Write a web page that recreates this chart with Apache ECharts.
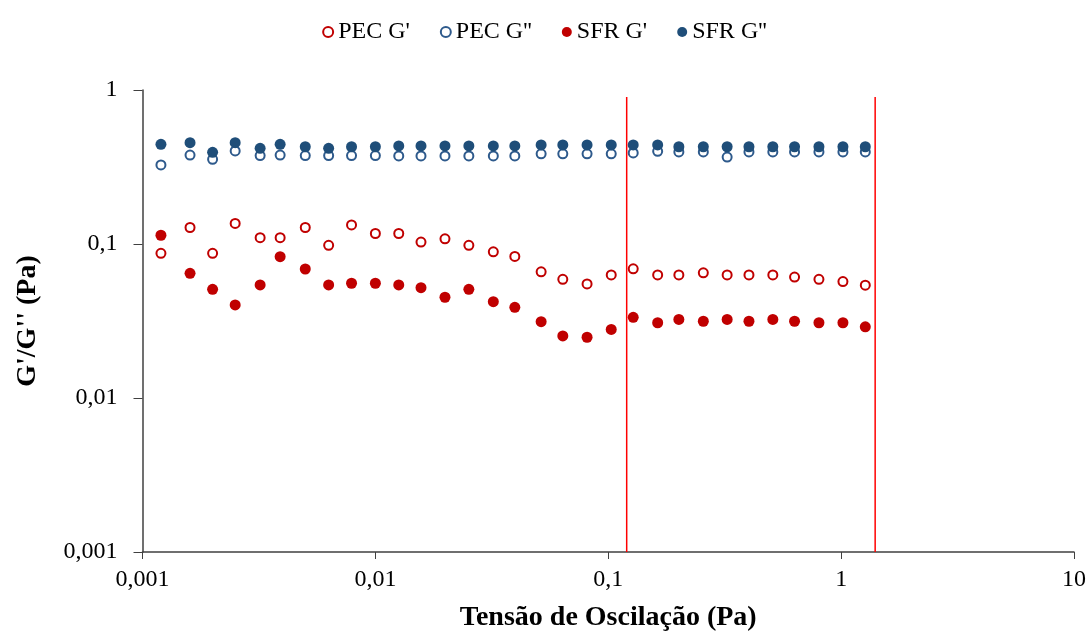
<!DOCTYPE html>
<html>
<head>
<meta charset="utf-8">
<script src="https://cdn.jsdelivr.net/npm/echarts@6/dist/echarts.min.js"></script>
<style>html,body{margin:0;padding:0;background:#fff}#c{width:1089px;height:637px}</style>
</head>
<body>
<div id="c"></div>
<script>
const stress = [0.0012,0.0016,0.002,0.0025,0.0032,0.0039,0.005,0.0063,0.0079,0.01,
  0.0126,0.0157,0.0199,0.0252,0.0321,0.0397,0.0515,0.0638,0.0811,0.103,
  0.128,0.163,0.201,0.256,0.324,0.402,0.509,0.631,0.803,1.018,1.27];
const pecG1 = [0.087,0.128,0.087,0.136,0.11,0.11,0.128,0.098,0.133,0.117,
  0.117,0.103,0.108,0.098,0.089,0.083,0.066,0.059,0.055,0.063,
  0.069,0.063,0.063,0.065,0.063,0.063,0.063,0.061,0.059,0.057,0.054];
const pecG2 = [0.326,0.378,0.355,0.402,0.375,0.378,0.375,0.375,0.375,0.375,
  0.373,0.373,0.373,0.373,0.373,0.373,0.385,0.385,0.385,0.385,
  0.39,0.40,0.396,0.396,0.367,0.396,0.396,0.396,0.396,0.396,0.396];
const sfrG1 = [0.114,0.0645,0.0508,0.0402,0.0542,0.0827,0.0688,0.0542,0.0556,0.0556,
  0.0542,0.052,0.0451,0.0508,0.0422,0.0388,0.0313,0.0253,0.0248,0.0279,
  0.0334,0.0308,0.0324,0.0315,0.0324,0.0315,0.0324,0.0315,0.0308,0.0308,0.029];
const sfrG2 = [0.444,0.455,0.394,0.455,0.418,0.444,0.428,0.418,0.428,0.428,
  0.433,0.433,0.433,0.433,0.433,0.433,0.44,0.44,0.44,0.44,
  0.44,0.44,0.428,0.428,0.428,0.428,0.428,0.428,0.428,0.428,0.428];
const limitX = [0.12, 1.4];
const limitY = [0.001, 0.9];
const xTickLabels = {'-3':'0,001','-2':'0,01','-1':'0,1','0':'1','1':'10'};
const yTickLabels = {'-3':'0,001','-2':'0,01','-1':'0,1','0':'1'};
const seriesNames = ["PEC G'", "PEC G''", "SFR G'", "SFR G''"];

const RED = '#C00000', BLUE = '#1F4E79', BLUE2 = '#2E5A8C';
const font = '"Liberation Serif", "Times New Roman", serif';
const pair = arr => arr.map((v, i) => [stress[i], v]);

function scatter(name, data, color, open) {
  return {
    name, type: 'scatter', data: pair(data), symbol: 'circle', symbolSize: open ? 9 : 11,
    itemStyle: open ? {color: '#fff', borderColor: color, borderWidth: 2, opacity: 1} : {color: color, opacity: 1},
    emphasis: {disabled: true}
  };
}
function vline(x) {
  return {
    type: 'line', data: [[x, limitY[0]], [x, limitY[1]]], symbol: 'none', silent: true,
    lineStyle: {color: '#FF0000', width: 1.5}, z: 1
  };
}

const chart = echarts.init(document.getElementById('c'));
chart.setOption({
  animation: false,
  backgroundColor: '#fff',
  legend: {
    data: seriesNames, top: 15, left: 'center', itemWidth: 10, itemHeight: 10, itemGap: 30,
    textStyle: {fontFamily: font, fontSize: 24, color: '#000'}
  },
  grid: {left: 142.5, right: 14, top: 90, bottom: 85},
  xAxis: {
    type: 'log', logBase: 10, min: 0.001, max: 10,
    name: 'Tensão de Oscilação (Pa)', nameLocation: 'middle', nameGap: 52,
    nameTextStyle: {fontFamily: font, fontSize: 28, fontWeight: 'bold', color: '#000'},
    axisLine: {lineStyle: {color: '#404040', width: 1.5}},
    axisTick: {show: true, length: 7, lineStyle: {color: '#404040'}},
    axisLabel: {fontFamily: font, fontSize: 24, color: '#000', margin: 16,
      formatter: v => xTickLabels[String(Math.round(Math.log10(v)))] },
    splitLine: {show: false}, minorTick: {show: false}
  },
  yAxis: {
    type: 'log', logBase: 10, min: 0.001, max: 1,
    name: "G'/G'' (Pa)", nameLocation: 'middle', nameGap: 101,
    nameTextStyle: {fontFamily: font, fontSize: 28, fontWeight: 'bold', color: '#000'},
    axisLine: {show: true, lineStyle: {color: '#404040', width: 1.5}},
    axisTick: {show: true, length: 9, lineStyle: {color: '#404040'}},
    axisLabel: {fontFamily: font, fontSize: 24, color: '#000', margin: 25,
      formatter: v => yTickLabels[String(Math.round(Math.log10(v)))] },
    splitLine: {show: false}, minorTick: {show: false}
  },
  series: [
    vline(limitX[0]), vline(limitX[1]),
    scatter(seriesNames[0], pecG1, RED, true),
    scatter(seriesNames[1], pecG2, BLUE2, true),
    scatter(seriesNames[2], sfrG1, RED, false),
    scatter(seriesNames[3], sfrG2, BLUE, false)
  ]
});
</script>
</body>
</html>
